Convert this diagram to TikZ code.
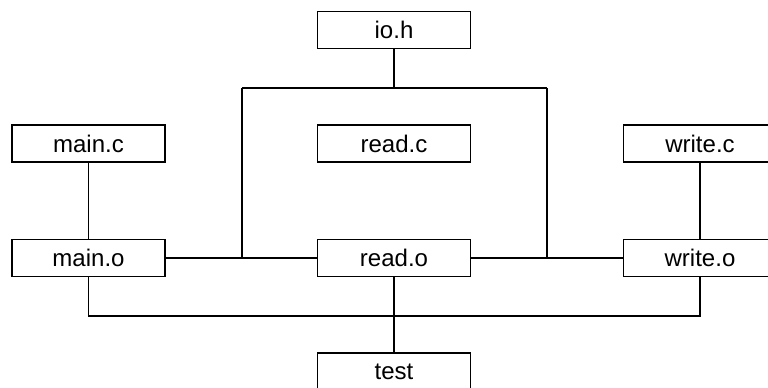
\documentclass[tikz,border=0pt]{standalone}
\usepackage{fontspec}
\setmainfont{Liberation Sans}

\begin{document}
\begin{tikzpicture}[x=0.03cm, y=-0.03cm,
  file/.style={rectangle, draw, line width=0.9pt, minimum width=4.59cm, minimum height=1.11cm, inner sep=0pt, font=\fontsize{20.5}{24}\selectfont},
  link/.style={line width=0.9pt}]
  \useasboundingbox (0,0) rectangle (768,387);
  \clip (0,0) rectangle (768,387);
  % sources and header
  \node[file] (ioh)    at (394,30)    {io.h};
  \node[file] (mainc)  at (88.5,143.5) {main.c};
  \node[file] (readc)  at (394,143.5)  {read.c};
  \node[file] (writec) at (700,143.5)  {write.c};
  % objects
  \node[file] (maino)  at (88.5,258)  {main.o};
  \node[file] (reado)  at (394,258)   {read.o};
  \node[file] (writeo) at (700,258)   {write.o};
  % executable
  \node[file] (test)   at (394,371.5) {test};

  \coordinate (hl) at (242,88);
  \coordinate (hr) at (547,88);
  \coordinate (bus) at (394,316);

  \draw[link] (ioh.south) -- (ioh.south |- hl);
  \draw[link] (hl) -- (hr);
  \draw[link] (hl) -- (hl |- maino.east);
  \draw[link] (hr) -- (hr |- writeo.west);
  \draw[link] (maino.east) -- (reado.west);
  \draw[link] (reado.east) -- (writeo.west);
  \draw[link] (mainc.south) -- (maino.north);
  \draw[link] (writec.south) -- (writeo.north);
  \draw[link] (maino.south) |- (bus) -| (writeo.south);
  \draw[link] (reado.south) -- (test.north);
\end{tikzpicture}
\end{document}
